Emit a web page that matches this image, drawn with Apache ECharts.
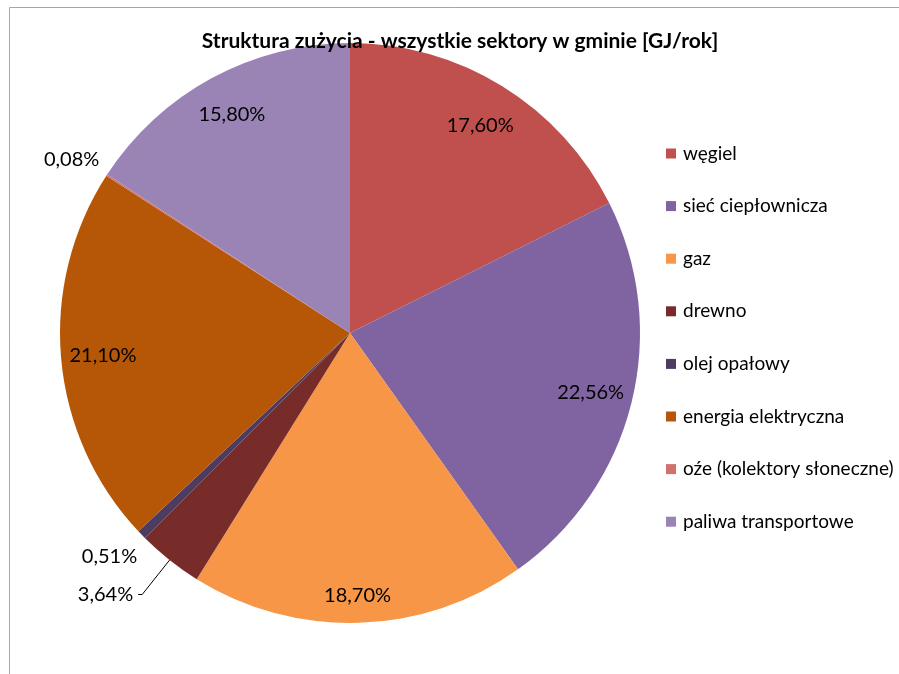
<!DOCTYPE html>
<html>
<head>
<meta charset="utf-8">
<script src="https://cdn.jsdelivr.net/npm/echarts@6/dist/echarts.min.js"></script>
<style>
html,body{margin:0;padding:0;background:#fff;}
#chart{width:899px;height:674px;}
</style>
</head>
<body>
<div id="chart"></div>
<script>
const categories = ['węgiel','sieć ciepłownicza','gaz','drewno','olej opałowy','energia elektryczna','oźe (kolektory słoneczne)','paliwa transportowe'];
const values = [17.60, 22.56, 18.70, 3.64, 0.51, 21.10, 0.08, 15.80];
const colors = ['#C0504D','#8064A2','#F79646','#772C2A','#4D3B62','#B65708','#D0716E','#9A84B5'];
const outsideLabels = ['drewno','olej opałowy','oźe (kolektory słoneczne)'];
const title = 'Struktura zużycia - wszystkie sektory w gminie [GJ/rok]';

const FONT = 'Lato, "Open Sans", sans-serif';
const fmt = p => p.value.toFixed(2).replace('.', ',') + '%';

// styling: leader-line lengths and small label nudges (layout only)
const lineLen = { 'drewno': [44, 4], 'olej opałowy': [20, 0], 'oźe (kolektory słoneczne)': [10, 0] };
const nudge = { 'olej opałowy': [15, 8], 'oźe (kolektory słoneczne)': [6, -10], 'gaz': [0, 15], 'węgiel': [0, 4] };

const mainData = categories.map((c, i) => {
  const isOut = outsideLabels.indexOf(c) >= 0;
  return {
    name: c, value: values[i],
    itemStyle: { color: colors[i] },
    label: { show: isOut },
    labelLine: isOut ? { show: c === 'drewno', length: lineLen[c][0], length2: lineLen[c][1] } : { show: false }
  };
});
const overlayData = categories.map((c, i) => ({
  name: c, value: values[i],
  itemStyle: { color: 'rgba(0,0,0,0)' },
  label: { show: outsideLabels.indexOf(c) < 0 }
}));

function layoutFn(params) {
  const n = nudge[categories[params.dataIndex]];
  return n ? { dx: n[0], dy: n[1] } : {};
}

const chart = echarts.init(document.getElementById('chart'), null, { renderer: 'canvas' });
chart.setOption({
  animation: false,
  backgroundColor: '#fff',
  title: {
    text: title, left: 455, top: 26, textAlign: 'center',
    textStyle: { fontFamily: FONT, fontWeight: 'bold', fontSize: 21, color: '#000' }
  },
  legend: {
    orient: 'vertical', left: 666, top: 144, padding: 0,
    itemWidth: 10, itemHeight: 10, itemGap: 33.6, icon: 'rect',
    data: categories,
    textStyle: { fontFamily: FONT, fontSize: 19, color: '#000', padding: [0,0,0,2] }
  },
  graphic: [{
    type: 'rect', shape: { x: 9.5, y: 7.5, width: 1000, height: 1000 },
    style: { fill: 'none', stroke: '#A6A6A6', lineWidth: 1 }, silent: true, z: -1
  }],
  series: [{
    type: 'pie', center: [350, 333], radius: [0, 290],
    startAngle: 90, clockwise: true, avoidLabelOverlap: false,
    data: mainData,
    label: {
      position: 'outside', formatter: fmt,
      fontFamily: FONT, fontSize: 20, color: '#000'
    },
    labelLine: { smooth: false, lineStyle: { color: '#000', width: 1 } },
    labelLayout: layoutFn,
    emphasis: { disabled: true }
  }, {
    type: 'pie', center: [350, 333], radius: [200, 290],
    startAngle: 90, clockwise: true, silent: true,
    data: overlayData,
    label: { position: 'inside', formatter: fmt, fontFamily: FONT, fontSize: 20, color: '#000' },
    labelLine: { show: false },
    labelLayout: layoutFn,
    emphasis: { disabled: true }
  }]
});
</script>
</body>
</html>
